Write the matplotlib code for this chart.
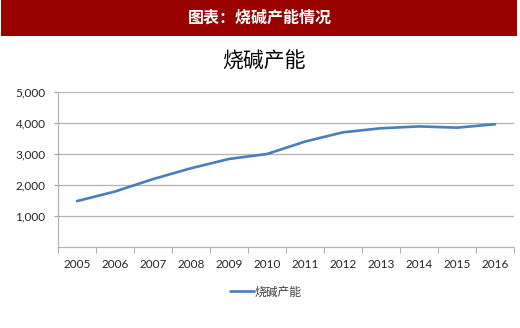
import matplotlib
matplotlib.use("Agg")
import matplotlib.pyplot as plt
from matplotlib.patches import Rectangle
import numpy as np

plt.rcParams['font.family'] = ['Noto Sans CJK SC', 'DejaVu Sans']

years = ['2005', '2006', '2007', '2008', '2009', '2010',
         '2011', '2012', '2013', '2014', '2015', '2016']
capacity = [1480, 1790, 2190, 2540, 2840, 3000,
            3400, 3700, 3830, 3890, 3850, 3960]
yticks = [1000, 2000, 3000, 4000, 5000]
header_text = '图表：烧碱产能情况'
chart_title = '烧碱产能'
series_name = '烧碱产能'

W, H = 520, 328
fig = plt.figure(figsize=(W / 100, H / 100), dpi=100)
fig.patch.set_facecolor('white')

# red header band
fig.patches.append(Rectangle((1 / W, 1 - 36 / H), 516 / W, 36 / H,
                             transform=fig.transFigure, facecolor='#990000',
                             edgecolor='none', zorder=0))
fig.text(260 / W, 1 - 18 / H, header_text, color='white', fontsize=11.5,
         fontweight='bold', ha='center', va='center')

fig.text(264 / W, 1 - 62 / H, chart_title, color='#000000', fontsize=15,
         ha='center', va='center')

ax = fig.add_axes([58 / W, (H - 247) / H, 456 / W, 155 / H])
x = np.arange(len(years))
ax.plot(x, capacity, color='#4a7ebb', linewidth=1.9, solid_capstyle='round',
        label=series_name)

ax.set_xlim(-0.5, len(years) - 0.5)
ax.set_ylim(0, 5000)
ax.set_yticks(yticks)
ax.set_yticklabels([f'{v:,}' for v in yticks])
ax.set_xticks(x)
ax.set_xticklabels(years)
ax.set_xticks(np.arange(-0.5, len(years) + 0.5, 1), minor=True)
ax.tick_params(axis='x', which='major', length=0, pad=9)
ax.tick_params(axis='x', which='minor', length=4, color='#a0a0a0', direction='out')
ax.tick_params(axis='y', length=3, color='#a0a0a0', pad=6)
for lab in ax.get_xticklabels() + ax.get_yticklabels():
    lab.set_fontfamily(['Lato', 'DejaVu Sans'])
    lab.set_fontsize(8.5)
    lab.set_color('#262626')

ax.grid(axis='y', color='#b3b3b3', linewidth=0.9)
ax.set_axisbelow(True)
for side in ['top', 'right']:
    ax.spines[side].set_visible(False)
for side in ['left', 'bottom']:
    ax.spines[side].set_color('#b3b3b3')
    ax.spines[side].set_linewidth(0.9)

leg = fig.legend(loc='center', bbox_to_anchor=(266 / W, 1 - 292 / H),
                 frameon=False, fontsize=8.5, handlelength=2.0,
                 handletextpad=0.1, borderpad=0)
for t in leg.get_texts():
    t.set_color('#404040')

fig.savefig('out.png', dpi=100, facecolor='white')
